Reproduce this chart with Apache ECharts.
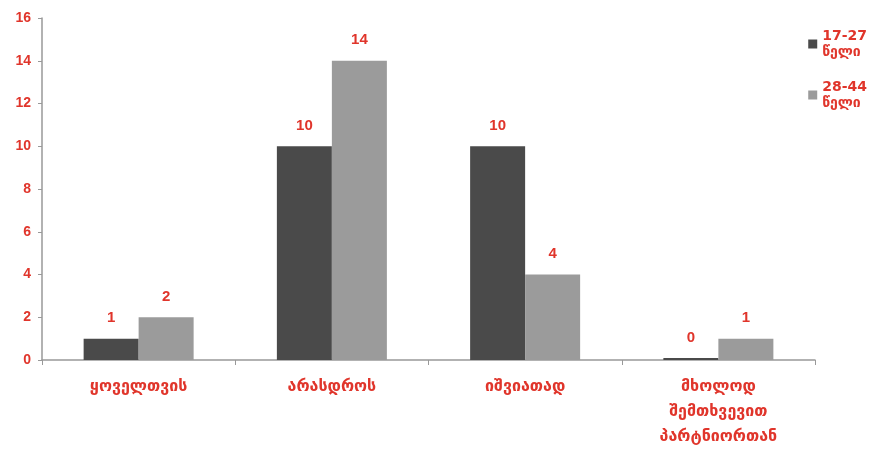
<!DOCTYPE html>
<html><head><meta charset="utf-8">
<script src="https://cdn.jsdelivr.net/npm/echarts@6/dist/echarts.min.js"></script>
<style>html,body{margin:0;padding:0;background:#fff}#c{width:894px;height:449px}</style>
</head><body><div id="c"></div>
<script>
var categories = ['ყოველთვის', 'არასდროს', 'იშვიათად', 'მხოლოდ\nშემთხვევით\nპარტნიორთან'];
var seriesNames = ['17-27\nწელი', '28-44\nწელი'];
var valuesA = [1, 10, 10, 0];
var valuesB = [2, 14, 4, 1];
var yTicks = {min: 0, max: 16, interval: 2};

var red = '#e0352b';
var chart = echarts.init(document.getElementById('c'));
function lab() {
  return {show: true, position: 'top', distance: 13, color: red, fontWeight: 'bold',
          fontSize: 15, fontFamily: 'Liberation Sans, Arial, sans-serif'};
}
chart.setOption({
  animation: false,
  grid: {left: 42, right: 79, top: 18, bottom: 88},
  legend: {
    orient: 'vertical', right: 22, top: 23, itemWidth: 9, itemHeight: 9, itemGap: 19,
    icon: 'rect',
    textStyle: {color: red, fontWeight: 'bold', fontSize: 14, lineHeight: 16,
                fontFamily: 'DejaVu Sans, Liberation Sans, sans-serif'},
    data: seriesNames
  },
  xAxis: {
    type: 'category', data: categories,
    axisLine: {lineStyle: {color: '#999', width: 1.5}},
    axisTick: {show: true, length: 5, lineStyle: {color: '#999'}},
    axisLabel: {color: red, fontSize: 16, fontWeight: 'bold', lineHeight: 25, margin: 14,
                fontFamily: 'DejaVu Sans, sans-serif'}
  },
  yAxis: {
    type: 'value', min: yTicks.min, max: yTicks.max, interval: yTicks.interval,
    splitLine: {show: false},
    axisLine: {show: true, lineStyle: {color: '#999', width: 1.5}},
    axisTick: {show: true, length: 4, lineStyle: {color: '#999'}},
    axisLabel: {color: red, fontWeight: 'bold', fontSize: 14, margin: 11,
                fontFamily: 'Liberation Sans, Arial, sans-serif'}
  },
  series: [
    {name: seriesNames[0], type: 'bar', data: valuesA, barWidth: 55, barGap: '0%',
     barMinHeight: 2, itemStyle: {color: '#4a4a4a'}, label: lab()},
    {name: seriesNames[1], type: 'bar', data: valuesB, barWidth: 55,
     itemStyle: {color: '#9b9b9b'}, label: lab()}
  ]
});
</script></body></html>
